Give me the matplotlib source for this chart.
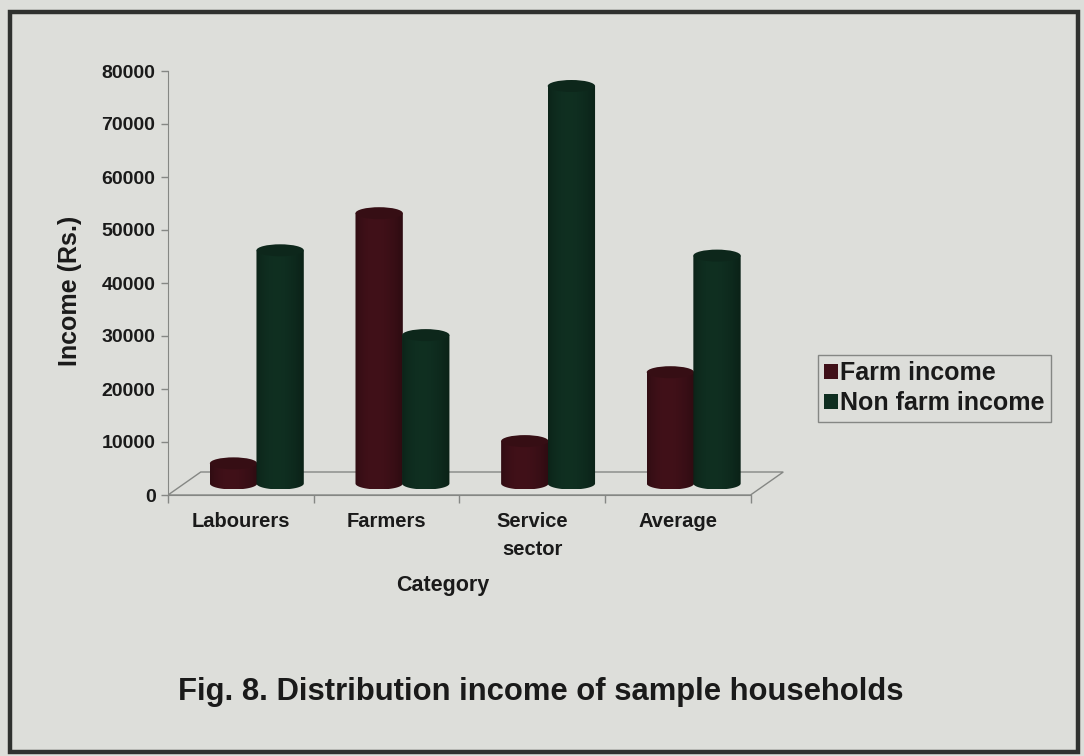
import numpy as np
import matplotlib
matplotlib.use("Agg")
import matplotlib.pyplot as plt
from matplotlib.patches import Ellipse, Polygon, Rectangle
from matplotlib.colors import to_rgb

# Household income by category (Rs.)
categories = ["Labourers", "Farmers", "Service\nsector", "Average"]
farm_income = [3800, 51000, 8000, 21000]
non_farm_income = [44000, 28000, 75000, 43000]
series_names = ["Farm income", "Non farm income"]
y_ticks = [0, 10000, 20000, 30000, 40000, 50000, 60000, 70000, 80000]

plt.rcParams["font.family"] = ["Liberation Sans", "DejaVu Sans"]
plt.rcParams["font.weight"] = "bold"

BG = "#dddeda"
FARM = "#3f1018"
NONFARM = "#0f2e20"
EDGE = "#858784"
TEXT = "#1a1a1a"

W, H = 1084, 756
fig = plt.figure(figsize=(W / 100, H / 100), dpi=100)
fig.patch.set_facecolor(BG)

ax = fig.add_axes([168 / W, (H - 495) / H, 616 / W, 424 / H])
ax.set_facecolor("none")

xmin, xmax = -0.5, 3.73
ymin, ymax = 0, 80000
px_y = (ymax - ymin) / 424.0        # data units per pixel (vertical)

# oblique depth of the floor
depth_x = 0.225
depth_y = 23 * px_y

# floor parallelogram
floor = Polygon([(-0.5, 0), (3.5, 0), (3.5 + depth_x, depth_y), (-0.5 + depth_x, depth_y)],
                closed=True, facecolor=BG, edgecolor=EDGE, lw=1.0, zorder=1)
ax.add_patch(floor)

bar_w = 0.325
cap_h = 12 * px_y
base = depth_y / 2
offsets = [-0.05, 0.27]


def shade(color, n=64):
    r, g, b = to_rgb(color)
    t = np.linspace(0, 1, n)
    f = 0.6 + 0.5 * np.sin(np.pi * (t * 0.9 + 0.05)) ** 0.6 * (1.0 - 0.3 * t)
    img = np.stack([np.clip(r * f, 0, 1), np.clip(g * f, 0, 1), np.clip(b * f, 0, 1)], axis=-1)
    return img[np.newaxis, :, :]


def cylinder(xc, value, color, z):
    x0, x1 = xc - bar_w / 2, xc + bar_w / 2
    top = base + value
    theta = np.linspace(np.pi, 2 * np.pi, 40)
    arc = [(xc + bar_w / 2 * np.cos(t), base + cap_h / 2 * np.sin(t)) for t in theta]
    verts = [(x0, top)] + arc + [(x1, top)]
    body = Polygon(verts, closed=True, facecolor="none", edgecolor="none", zorder=z)
    ax.add_patch(body)
    im = ax.imshow(shade(color), extent=[x0, x1, base - cap_h / 2, top],
                   aspect="auto", origin="lower", interpolation="bilinear", zorder=z)
    im.set_clip_path(body)
    r, g, b = to_rgb(color)
    cap = Ellipse((xc, top), bar_w, cap_h, facecolor=(r * 0.85, g * 0.85, b * 0.85),
                  edgecolor="none", zorder=z + 0.1)
    ax.add_patch(cap)


for i in range(len(categories)):
    cylinder(i + offsets[0], farm_income[i], FARM, 3 + i * 0.01)
    cylinder(i + offsets[1], non_farm_income[i], NONFARM, 4 + i * 0.01)

ax.set_xlim(xmin, xmax)
ax.set_ylim(ymin, ymax)

for s in ("top", "right"):
    ax.spines[s].set_visible(False)
ax.spines["left"].set_color(EDGE)
ax.spines["bottom"].set_color(EDGE)
ax.spines["left"].set_bounds(0, 80000)
ax.spines["bottom"].set_bounds(-0.5, 3.5)

ax.set_yticks(y_ticks)
ax.set_yticklabels([str(v) for v in y_ticks])
ax.tick_params(axis="y", direction="out", length=5, width=1, color=EDGE,
               labelsize=14, labelcolor=TEXT, pad=4)

ax.set_xticks([-0.5, 0.5, 1.5, 2.5, 3.5])
ax.set_xticklabels([])
ax.set_xticks(range(len(categories)), minor=True)
ax.set_xticklabels(categories, minor=True)
ax.tick_params(axis="x", which="major", direction="out", length=6, width=1, color=EDGE)
ax.tick_params(axis="x", which="minor", length=0, labelsize=14.5, labelcolor=TEXT, pad=12)
for lbl in ax.get_xticklabels(minor=True):
    lbl.set_linespacing(1.6)

fig.text(70 / W, 1 - 291 / H, "Income (Rs.)", rotation=90, ha="center", va="center",
         fontsize=18, color=TEXT)
fig.text(443 / W, 1 - 585 / H, "Category", ha="center", va="center",
         fontsize=15.5, color=TEXT)
fig.text(541 / W, 1 - 692 / H, "Fig. 8. Distribution income of sample households",
         ha="center", va="center", fontsize=22.3, color=TEXT)

handles = [Rectangle((0, 0), 1, 1, facecolor=FARM, edgecolor="none"),
           Rectangle((0, 0), 1, 1, facecolor=NONFARM, edgecolor="none")]
leg = fig.legend(handles, series_names, loc="upper left",
                 bbox_to_anchor=(818 / W, 1 - 355 / H), borderaxespad=0,
                 fontsize=18, frameon=True, fancybox=False, edgecolor=EDGE,
                 facecolor=BG, framealpha=1, handlelength=0.55, handleheight=0.55,
                 handletextpad=0.1, borderpad=0.25, labelspacing=0.25)
leg.get_frame().set_linewidth(1.0)
for t in leg.get_texts():
    t.set_color(TEXT)

# outer frame
fig.patches.append(Rectangle((10 / W, 4 / H), 1068 / W, 740 / H, transform=fig.transFigure,
                             fill=False, edgecolor="#2f312f", lw=3.2, zorder=10))

fig.savefig("out.png", dpi=100, facecolor=BG)
